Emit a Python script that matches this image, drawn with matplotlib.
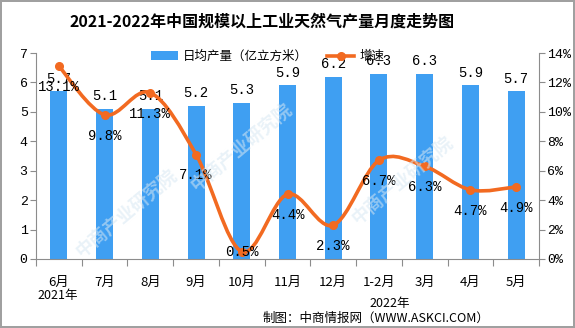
import matplotlib
matplotlib.use("Agg")
import matplotlib.pyplot as plt
from matplotlib.path import Path
from matplotlib.patches import PathPatch, Patch
from matplotlib.lines import Line2D
import numpy as np

plt.rcParams['font.family'] = ['Noto Sans CJK SC', 'DejaVu Sans']

months = ["6月", "7月", "8月", "9月", "10月", "11月", "12月", "1-2月", "3月", "4月", "5月"]
daily_output = [5.7, 5.1, 5.1, 5.2, 5.3, 5.9, 6.2, 6.3, 6.3, 5.9, 5.7]
growth = [13.1, 9.8, 11.3, 7.1, 0.5, 4.4, 2.3, 6.7, 6.3, 4.7, 4.9]
left_ticks = [0, 1, 2, 3, 4, 5, 6, 7]
right_ticks = [0, 2, 4, 6, 8, 10, 12, 14]

BLUE = "#3F9FF2"
ORANGE = "#F26A21"
AXIS_GRAY = "#8C8C8C"
MONO = ['Liberation Mono', 'DejaVu Sans Mono']

fig = plt.figure(figsize=(5.75, 3.28), dpi=100)
fig.patch.set_facecolor("white")
fig.patch.set_edgecolor("#A0A0A0")
fig.patch.set_linewidth(1.5)

ax = fig.add_axes([0.0626, 0.2104, 0.8748, 0.628])
ax2 = ax.twinx()

x = np.arange(len(months))
ax.bar(x, daily_output, width=0.37, color=BLUE, zorder=2)
ax.set_xlim(-0.5, len(months) - 0.5)
ax.set_ylim(0, 7)
ax.set_yticks(left_ticks)
ax.set_yticklabels([str(t) for t in left_ticks], family=MONO, fontsize=9.5)
ax.set_xticks(x)
ax.set_xticklabels(months, fontsize=9.5)
ax.set_xticks(np.arange(-0.5, len(months)), minor=True)
ax.tick_params(axis='x', which='major', length=0, pad=12)
ax.tick_params(axis='x', which='minor', length=5, color=AXIS_GRAY, width=0.8)
ax.tick_params(axis='y', length=4, color=AXIS_GRAY, width=0.8, pad=2)

for a in (ax, ax2):
    a.spines['top'].set_visible(False)
    for s in ('left', 'right', 'bottom'):
        a.spines[s].set_color(AXIS_GRAY)
        a.spines[s].set_linewidth(0.8)
ax.spines['right'].set_visible(False)
ax2.spines['left'].set_visible(False)
ax2.spines['bottom'].set_visible(False)

ax2.set_ylim(0, 14)
ax2.set_yticks(right_ticks)
ax2.set_yticklabels([f"{t}%" for t in right_ticks], family=MONO, fontsize=9.5)
ax2.tick_params(axis='y', length=4, color=AXIS_GRAY, width=0.8, pad=2)

# smoothed growth line: cubic Bezier segments with Catmull-Rom tangents
pts = np.column_stack([x, growth]).astype(float)
n = len(pts)
verts = [pts[0]]
codes = [Path.MOVETO]
for i in range(n - 1):
    p0 = pts[i - 1] if i > 0 else pts[i]
    p1 = pts[i]
    p2 = pts[i + 1]
    p3 = pts[i + 2] if i + 2 < n else pts[i + 1]
    c1 = p1 + (p2 - p0) / 6.0
    c2 = p2 - (p3 - p1) / 6.0
    verts += [c1, c2, p2]
    codes += [Path.CURVE4] * 3
ax2.add_patch(PathPatch(Path(verts, codes), facecolor='none', edgecolor=ORANGE,
                        lw=2.6, zorder=3, capstyle='round'))
ax2.plot(x, growth, 'o', color=ORANGE, ms=5.5, zorder=4)

# value labels
for xi, v in zip(x, daily_output):
    ax.annotate(f"{v}", (xi, v), xytext=(0, 4), textcoords='offset points',
                ha='center', va='bottom', family=MONO, fontsize=10, zorder=5)
for xi, g in zip(x, growth):
    # labels sit below their points unless that would drop under the axis
    dy = -15 if g > 1.5 else 0
    ax2.annotate(f"{g}%", (xi, g), xytext=(0, dy), textcoords='offset points',
                 ha='center', va='center', family=MONO, fontsize=10, zorder=5)

# legend
handles = [Patch(facecolor=BLUE, edgecolor='none'),
           Line2D([0], [0], color=ORANGE, lw=2.6, marker='o', ms=5.5)]
fig.legend(handles, ["日均产量（亿立方米）", "增速"], loc='center',
           bbox_to_anchor=(0.465, 0.828), ncol=2, frameon=False, fontsize=9,
           handlelength=2.2, handletextpad=0.4, columnspacing=1.5)

fig.text(0.456, 0.933, "2021-2022年中国规模以上工业天然气产量月度走势图",
         ha='center', va='center', fontsize=11.5, fontweight='bold')
fig.text(0.10, 0.10, "2021年", ha='center', va='center', fontsize=9)
fig.text(0.677, 0.076, "2022年", ha='center', va='center', fontsize=9)
fig.text(0.852, 0.03, "制图：中商情报网（WWW.ASKCI.COM）", ha='right', va='center', fontsize=9)

# faint diagonal watermark
for wx, wy in [(0.42, 0.55), (0.7, 0.45), (0.22, 0.35)]:
    fig.text(wx, wy, "中商产业研究院", rotation=40, ha='center', va='center',
             fontsize=13, fontweight='bold', color='#D8E8F3', alpha=0.55, zorder=0)

fig.savefig("out.png", dpi=100)
